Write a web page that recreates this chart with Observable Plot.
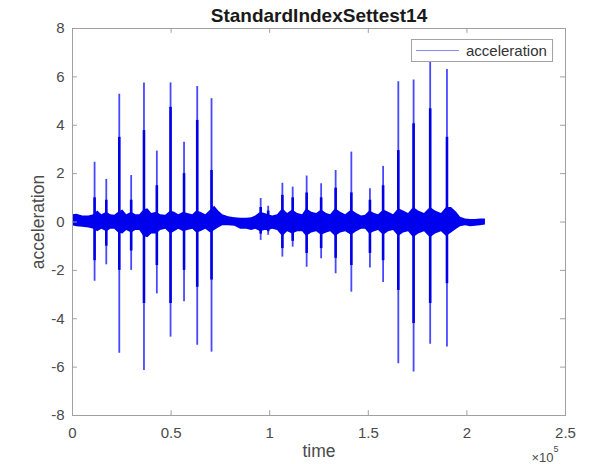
<!DOCTYPE html>
<html>
<head>
<meta charset="utf-8">
<script src="https://cdn.jsdelivr.net/npm/d3@7"></script>
<script src="https://cdn.jsdelivr.net/npm/@observablehq/plot@0.6"></script>
<style>
  body { margin: 0; background: #fff; }
  #wrap { position: relative; width: 595px; height: 464px; }
  #legend { position: absolute; left: 411px; top: 39px; width: 142px; height: 23px; box-sizing: border-box;
            border: 1px solid #a3a3a3; background: #fff; font-family: "Liberation Sans", Arial, sans-serif;
            font-size: 15px; color: #333; }
  #legend .sw { position: absolute; left: 4px; top: 10px; width: 43px; height: 0; border-top: 1.5px solid #8a8af5; }
  #legend .lb { position: absolute; left: 54px; top: 2px; white-space: nowrap; }
</style>
</head>
<body>
<div id="wrap"></div>
<script>
// ---- chart text ----
const title = "StandardIndexSettest14";
const xLabel = "time";
const yLabel = "acceleration";
const seriesName = "acceleration";
const xTicks = [0, 50000, 100000, 150000, 200000, 250000];
const yTicks = [-8, -6, -4, -2, 0, 2, 4, 6, 8];

// ---- impacts (spikes) ----
const spikeT  = [11200, 17130, 23720, 29750, 36240, 42770, 49720, 56560, 63250, 70500, 95430, 99230, 106430, 111650, 118740, 126090, 133440, 141400, 150830, 157510, 165220, 172970, 181380, 189890];
const spikeHi = [2.47, 1.76, 5.28, 1.92, 5.75, 2.93, 5.75, 3.3, 5.6, 5.1, 0.97, 0.65, 1.6, 1.44, 1.9, 1.58, 2.13, 2.89, 1.37, 2.3, 5.8, 5.87, 6.67, 6.3];
const spikeLo = [-2.45, -1.77, -5.43, -2.0, -6.14, -2.97, -4.76, -3.3, -5.1, -5.38, -0.76, -0.55, -1.45, -1.04, -1.87, -1.52, -2.14, -2.9, -1.9, -2.5, -5.86, -6.2, -5.05, -5.17];
const coreHi  = [1.0, 0.9, 3.5, 0.9, 3.78, 1.5, 4.74, 2.0, 4.2, 2.13, 0.6, 0.45, 1.1, 1.0, 1.2, 1.0, 1.4, 1.2, 0.9, 1.5, 2.95, 4.06, 4.68, 3.5];
const coreLo  = [-1.6, -1.0, -2.0, -1.2, -3.37, -1.8, -3.37, -2.0, -2.7, -2.4, -0.5, -0.4, -1.1, -0.8, -1.3, -1.1, -1.5, -1.8, -1.3, -1.6, -2.83, -4.2, -3.37, -2.55];

// ---- background vibration band (upper / lower envelope) ----
const bandT  = [0, 2200, 5200, 8300, 10800, 12800, 14850, 17400, 19400, 21400, 23400, 25500, 27500, 30000, 32100, 34100, 36200, 38200, 40200, 42700, 44700, 47300, 49800, 51800, 53900, 56400, 58400, 61000, 63000, 65000, 67600, 70100, 72100, 74100, 76200, 79200, 82300, 85300, 88300, 90900, 92900, 95400, 97500, 99500, 101500, 104000, 106600, 109100, 111600, 114200, 116700, 118700, 121300, 123800, 126300, 128900, 130900, 133400, 136000, 138500, 141500, 144100, 146600, 148600, 150700, 153200, 155200, 157800, 160300, 162800, 165400, 167900, 170400, 173000, 175500, 178500, 181500, 184100, 187100, 189700, 192200, 194800, 196800, 199300, 201900, 204400, 206900, 209400];
const bandHi = [0.3, 0.32, 0.25, 0.25, 0.3, 0.45, 0.3, 0.4, 0.3, 0.28, 0.4, 0.5, 0.3, 0.4, 0.3, 0.3, 0.5, 0.55, 0.35, 0.4, 0.3, 0.28, 0.45, 0.4, 0.3, 0.4, 0.35, 0.3, 0.45, 0.4, 0.3, 0.5, 0.65, 0.45, 0.3, 0.22, 0.18, 0.15, 0.15, 0.18, 0.25, 0.4, 0.35, 0.3, 0.25, 0.3, 0.55, 0.35, 0.5, 0.35, 0.3, 0.55, 0.4, 0.35, 0.5, 0.35, 0.3, 0.55, 0.4, 0.3, 0.5, 0.35, 0.25, 0.28, 0.45, 0.35, 0.3, 0.5, 0.4, 0.3, 0.55, 0.45, 0.35, 0.6, 0.45, 0.35, 0.6, 0.45, 0.35, 0.6, 0.6, 0.4, 0.2, 0.12, 0.1, 0.1, 0.12, 0.12];
const bandLo = [-0.15, -0.2, -0.22, -0.25, -0.3, -0.4, -0.3, -0.4, -0.3, -0.3, -0.45, -0.5, -0.35, -0.45, -0.35, -0.35, -0.6, -0.65, -0.5, -0.5, -0.35, -0.3, -0.5, -0.4, -0.3, -0.4, -0.35, -0.3, -0.45, -0.4, -0.3, -0.45, -0.35, -0.25, -0.15, -0.15, -0.18, -0.3, -0.3, -0.35, -0.3, -0.4, -0.35, -0.35, -0.3, -0.35, -0.6, -0.4, -0.5, -0.4, -0.4, -0.6, -0.45, -0.4, -0.55, -0.45, -0.4, -0.6, -0.45, -0.4, -0.55, -0.4, -0.3, -0.3, -0.5, -0.4, -0.35, -0.55, -0.4, -0.35, -0.6, -0.45, -0.4, -0.65, -0.5, -0.4, -0.65, -0.5, -0.4, -0.6, -0.45, -0.3, -0.2, -0.15, -0.2, -0.18, -0.15, -0.12];

// ---- tables built from the arrays ----
const band = bandT.map((t, i) => ({t, hi: bandHi[i], lo: bandLo[i]}));
const spikes = spikeT.map((t, i) => ({t, hi: spikeHi[i], lo: spikeLo[i], chi: coreHi[i], clo: coreLo[i]}));

const gray = "#a0a0a0";
const txt = "#4a4a4a";
const font = '"Liberation Sans", Arial, Helvetica, sans-serif';

const chart = Plot.plot({
  width: 595,
  height: 464,
  marginLeft: 72,
  marginRight: 30,
  marginTop: 28,
  marginBottom: 49,
  style: {fontFamily: font, fontSize: "15px", color: txt, background: "#fff", overflow: "visible"},
  x: {domain: [0, 250000], label: null},
  y: {domain: [-8, 8], label: null},
  marks: [
    Plot.areaY(band, {x: "t", y1: "lo", y2: "hi", fill: "#0000f0", curve: "linear"}),
    Plot.ruleX(spikes, {x: "t", y1: "lo", y2: "hi", stroke: "#1a1aff", strokeWidth: 1.8, strokeOpacity: 0.8}),
    Plot.ruleX(spikes, {x: "t", y1: "clo", y2: "chi", stroke: "#0000e6", strokeWidth: 2.6}),
    Plot.frame({stroke: gray}),
    Plot.ruleX(xTicks, {x: d => d, y1: -8, y2: -7.8, stroke: gray}),
    Plot.ruleX(xTicks, {x: d => d, y1: 8, y2: 7.8, stroke: gray}),
    Plot.ruleY(yTicks, {y: d => d, x1: 0, x2: 2500, stroke: gray}),
    Plot.ruleY(yTicks, {y: d => d, x1: 250000, x2: 247500, stroke: gray}),
    Plot.axisX({ticks: xTicks, tickSize: 0, tickPadding: 12, tickFormat: d => String(d / 1e5), label: null, fill: txt, fontSize: 15}),
    Plot.axisY({ticks: yTicks, tickSize: 0, tickPadding: 8, tickFormat: d => String(d), label: null, fill: txt, fontSize: 15}),
    Plot.text([title], {text: d => d, frameAnchor: "top", dy: -13, textAnchor: "middle", lineAnchor: "middle", fontWeight: "bold", fontSize: 19, fill: "#1a1a1a"}),
    Plot.text([xLabel], {text: d => d, frameAnchor: "bottom", dy: 36, textAnchor: "middle", lineAnchor: "middle", fontSize: 17.5, fill: txt}),
    Plot.text([yLabel], {text: d => d, frameAnchor: "left", dx: -34.5, rotate: -90, textAnchor: "middle", lineAnchor: "middle", fontSize: 17.5, fill: txt}),
    Plot.text(["×10"], {text: d => d, frameAnchor: "bottom-right", dx: -12, dy: 42, textAnchor: "end", lineAnchor: "middle", fontSize: 13, fill: txt}),
    Plot.text(["5"], {text: d => d, frameAnchor: "bottom-right", dx: -12, dy: 34, textAnchor: "start", lineAnchor: "middle", fontSize: 9, fill: txt})
  ]
});

const wrap = document.getElementById("wrap");
wrap.appendChild(chart);
const legend = document.createElement("div");
legend.id = "legend";
legend.innerHTML = '<span class="sw"></span><span class="lb"></span>';
legend.querySelector(".lb").textContent = seriesName;
wrap.appendChild(legend);
</script>
</body>
</html>
